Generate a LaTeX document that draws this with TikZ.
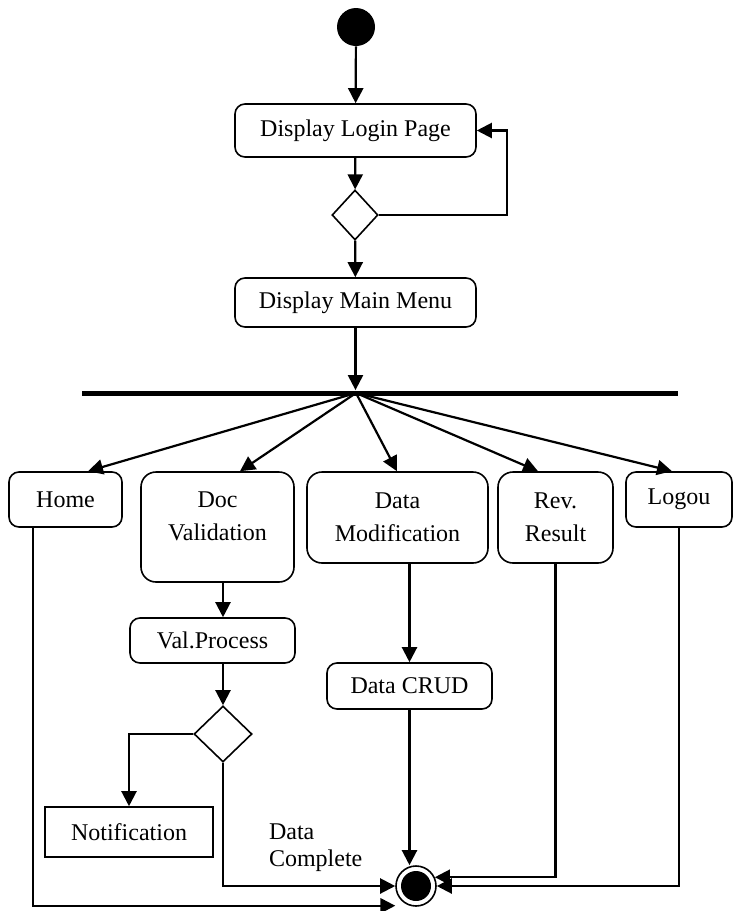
\documentclass[tikz,border=0pt]{standalone}
\usepackage{fontspec}
\setmainfont{Liberation Serif}
\usetikzlibrary{arrows.meta, shapes.geometric}

\begin{document}
\begin{tikzpicture}[x=0.5pt, y=-0.5pt, >={Triangle[length=7.5pt, width=7.5pt]}, font=\fontsize{12}{16.5}\selectfont]
    \tikzstyle{activity}=[draw, line width=0.8pt, rounded corners=5pt, align=center, inner sep=0pt]
    \tikzstyle{bigactivity}=[activity, rounded corners=7.5pt]
    \tikzstyle{decision}=[draw, line width=0.8pt, diamond, inner sep=0pt]
    \tikzstyle{startdot}=[circle, fill=black, minimum size=19pt, inner sep=0pt]
    \tikzstyle{enddot}=[circle, draw, line width=0.8pt, minimum size=20pt, inner sep=0pt,
        path picture={\fill[black] (path picture bounding box.center) circle (7.5pt);}]
    \tikzstyle{flow}=[->, line width=1.1pt]
    \useasboundingbox (0,0) rectangle (733,911);

    % Login part
    \node[startdot] (start) at (356,27) {};
    \node[activity, minimum width=120.5pt, minimum height=26.5pt] (login) at (355.5,130.5) {Display Login Page};
    \node[decision, minimum width=23pt, minimum height=25pt] (check) at (355,215) {};
    \node[activity, minimum width=120.5pt, minimum height=24.5pt] (menu) at (355.5,302.5) {Display Main Menu};

    % Fork bar
    \node[fill, minimum width=298pt, minimum height=2.5pt, inner sep=0pt] (bar) at (380,393) {};
    \coordinate (fork) at (356,393);

    % Menu entries
    \node[activity, minimum width=56.5pt, minimum height=27.5pt] (home) at (65.5,499.5) {Home};
    \node[bigactivity, minimum width=76.5pt, minimum height=55pt,
        label={[yshift=5.5pt, align=center]center:Doc\\Validation}] (docval) at (217.5,527) {};
    \node[bigactivity, minimum width=90.5pt, minimum height=45.5pt] (datamod) at (397.5,517.5) {Data\\Modification};
    \node[bigactivity, minimum width=57.5pt, minimum height=45.5pt] (review) at (555.5,517.5) {Rev.\\Result};
    \node[activity, minimum width=53pt, minimum height=27.5pt] (logout) at (679,499.5) {Logou};

    % Lower part
    \node[activity, minimum width=82.5pt, minimum height=22.5pt] (valproc) at (212.5,640.5) {Val.Process};
    \node[decision, minimum width=29pt, minimum height=28pt] (valid) at (223,734) {};
    \node[draw, line width=0.8pt, minimum width=84pt, minimum height=25pt] (notify) at (129,832) {Notification};
    \node[activity, minimum width=82.5pt, minimum height=23pt] (crud) at (409.5,686) {Data CRUD};
    \node[enddot] (end) at (416,886) {};
    \node[anchor=west, align=left, font=\fontsize{12}{13.5}\selectfont] (complete) at (262,848) {Data\\Complete};

    % Flows
    \draw[flow] (start) -- (login);
    \draw[flow] (login) -- (check);
    \draw[flow] (check.east) -- ++(128,0) |- (login.east);
    \draw[flow] (check) -- (menu);
    \draw[flow] (menu.south) -- (menu.south |- bar.north);

    \foreach \dest/\xt in {home/88, docval/240, datamod/397, review/538, logout/672}
    \draw[flow] (fork) -- (\xt,0 |- \dest.north);

    \draw[flow] (valid |- docval.south) -- (valid |- valproc.north);
    \draw[flow] (valid |- valproc.south) -- (valid.north);
    \draw[flow] (valid.west) -| (notify.north);
    \draw[flow] (valid.south) |- (end.west);
    \draw[flow] (crud |- datamod.south) -- (crud.north);
    \draw[flow] (crud.south) -- (crud.south |- end.north);
    \draw[flow] (review.south) |- (end.25);
    \draw[flow] (logout.south) |- (end.east);
    \draw[flow] (33,0 |- home.south) |- ([shift={(-6,5)}]end.south west);
\end{tikzpicture}
\end{document}
